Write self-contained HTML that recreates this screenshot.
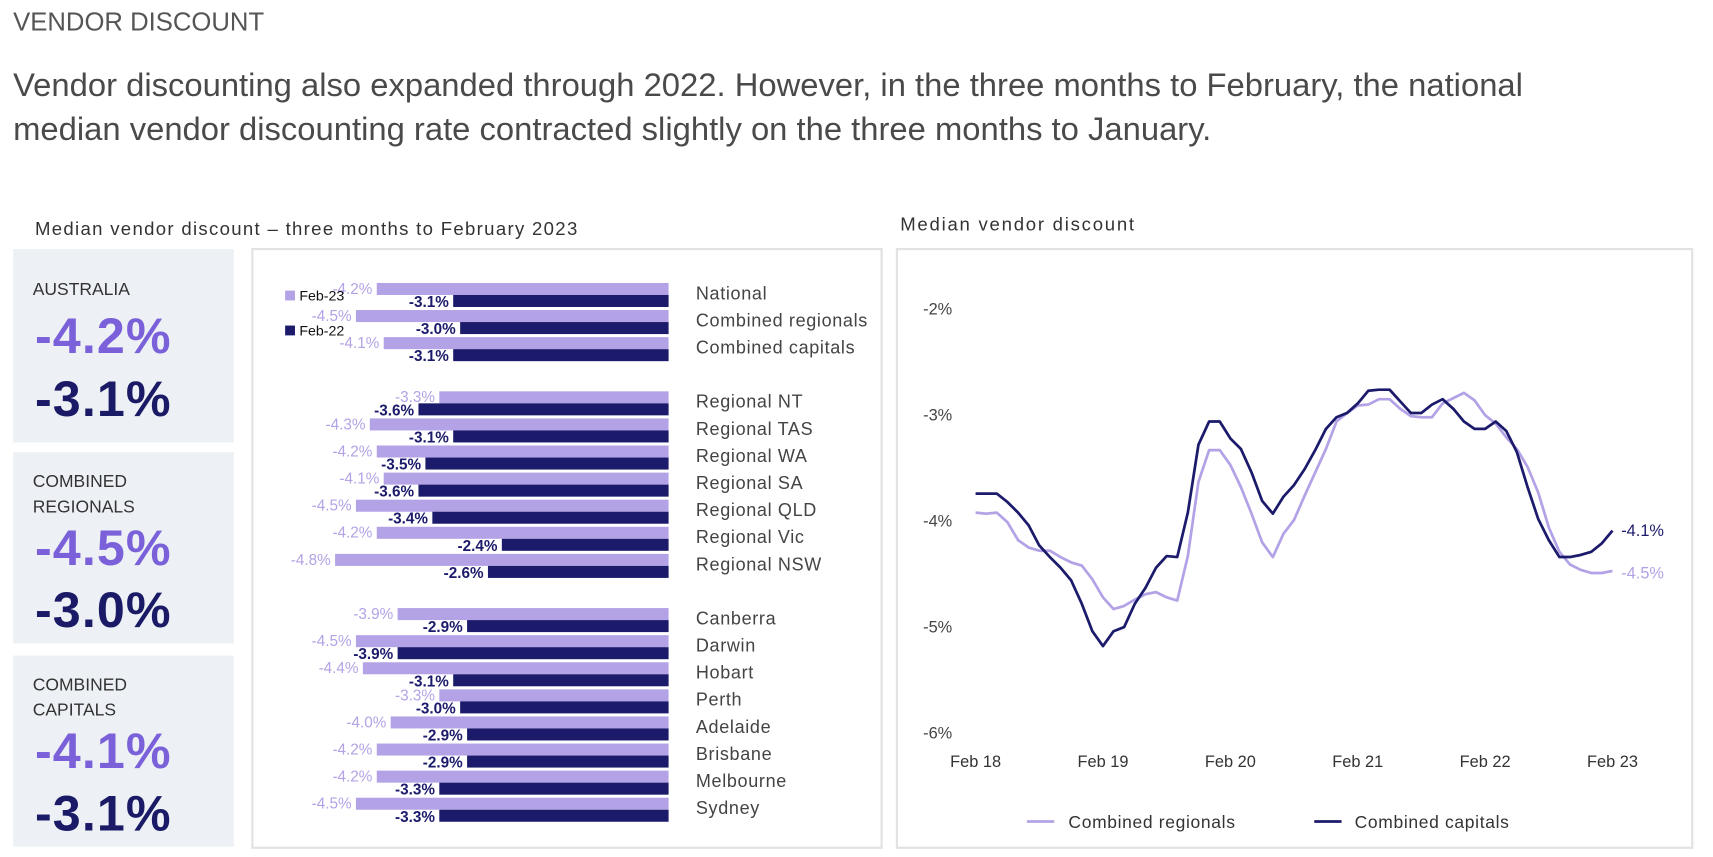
<!DOCTYPE html>
<html><head><meta charset="utf-8"><style>
html,body{margin:0;padding:0;background:#fff;overflow:hidden;width:1713px;height:857px}
#root{position:absolute;left:0;top:0;width:1568px;height:784px;transform:scale(1.09247);transform-origin:0 0;font-family:"Liberation Sans",sans-serif}
.abs{position:absolute;white-space:nowrap}
.panel{position:absolute;left:12px;width:202px;background:#edf1f5}
.plabel{position:absolute;left:18px;font-size:16px;color:#333;line-height:23px}
.big{position:absolute;left:20px;font-size:46px;font-weight:bold;letter-spacing:1px}
.box{position:absolute;border:2px solid #e2e2e2;background:#fff}
</style></head><body>
<div id="root">
<div class="abs" style="left:12px;top:7px;font-size:23.5px;color:#555">VENDOR DISCOUNT</div>
<div class="abs" style="left:12px;top:59px;font-size:30px;color:#4a4a4a;line-height:40px;white-space:normal;width:1460px">Vendor discounting also expanded through 2022. However, in the three months to February, the national median vendor discounting rate contracted slightly on the three months to January.</div>
<div class="abs" style="left:32px;top:200px;font-size:17px;letter-spacing:1.2px;color:#333">Median vendor discount – three months to February 2023</div>
<div class="abs" style="left:824px;top:196px;font-size:17px;letter-spacing:1.6px;color:#333">Median vendor discount</div>

<div class="panel" style="top:228px;height:177px">
 <div class="plabel" style="top:26px">AUSTRALIA</div>
 <div class="big" style="top:52px;color:#7b61d9">-4.2%</div>
 <div class="big" style="top:110px;color:#1b1a66">-3.1%</div>
</div>
<div class="panel" style="top:414px;height:175px">
 <div class="plabel" style="top:16px">COMBINED<br>REGIONALS</div>
 <div class="big" style="top:60px;color:#7b61d9">-4.5%</div>
 <div class="big" style="top:117px;color:#1b1a66">-3.0%</div>
</div>
<div class="panel" style="top:600px;height:175px">
 <div class="plabel" style="top:16px">COMBINED<br>CAPITALS</div>
 <div class="big" style="top:60px;color:#7b61d9">-4.1%</div>
 <div class="big" style="top:117px;color:#1b1a66">-3.1%</div>
</div>

<div class="box" style="left:230px;top:227px;width:574px;height:546px"></div>
<svg id="bars" class="abs" style="left:0;top:0" width="1568" height="784"></svg>
<div class="box" style="left:820px;top:227px;width:726px;height:546px"></div>
<svg id="lines" class="abs" style="left:0;top:0" width="1568" height="784"></svg>
</div>
<script>
const barCategories=["National","Combined regionals","Combined capitals","Regional NT","Regional TAS","Regional WA","Regional SA","Regional QLD","Regional Vic","Regional NSW","Canberra","Darwin","Hobart","Perth","Adelaide","Brisbane","Melbourne","Sydney"];
const barFeb23=[-4.2,-4.5,-4.1,-3.3,-4.3,-4.2,-4.1,-4.5,-4.2,-4.8,-3.9,-4.5,-4.4,-3.3,-4.0,-4.2,-4.2,-4.5];
const barFeb22=[-3.1,-3.0,-3.1,-3.6,-3.1,-3.5,-3.6,-3.4,-2.4,-2.6,-2.9,-3.9,-3.1,-3.0,-2.9,-2.9,-3.3,-3.3];
const barGroups=[0,0,0,1,1,1,1,1,1,1,2,2,2,2,2,2,2,2];

const lineXTicks=["Feb 18","Feb 19","Feb 20","Feb 21","Feb 22","Feb 23"];
const lineYTicks=[-2,-3,-4,-5,-6];
const regionals=[-3.93,-3.94,-3.93,-4.02,-4.19,-4.26,-4.29,-4.29,-4.35,-4.40,-4.43,-4.56,-4.73,-4.84,-4.81,-4.75,-4.70,-4.68,-4.73,-4.76,-4.34,-3.64,-3.34,-3.34,-3.48,-3.69,-3.94,-4.21,-4.35,-4.13,-4.00,-3.77,-3.55,-3.33,-3.07,-2.99,-2.92,-2.91,-2.86,-2.86,-2.95,-3.02,-3.03,-3.03,-2.90,-2.85,-2.80,-2.87,-3.01,-3.09,-3.22,-3.33,-3.50,-3.74,-4.07,-4.30,-4.42,-4.47,-4.50,-4.50,-4.48];
const capitals=[-3.75,-3.75,-3.75,-3.83,-3.93,-4.05,-4.24,-4.35,-4.45,-4.57,-4.79,-5.05,-5.19,-5.05,-5.01,-4.79,-4.64,-4.45,-4.34,-4.35,-3.93,-3.29,-3.07,-3.07,-3.23,-3.33,-3.55,-3.82,-3.94,-3.78,-3.67,-3.52,-3.34,-3.14,-3.03,-2.99,-2.90,-2.78,-2.77,-2.77,-2.88,-2.99,-2.99,-2.91,-2.86,-2.95,-3.07,-3.14,-3.14,-3.07,-3.16,-3.36,-3.69,-3.99,-4.19,-4.35,-4.35,-4.33,-4.30,-4.22,-4.10];

const NS="http://www.w3.org/2000/svg";
function mk(parent,tag,attrs,text){const e=document.createElementNS(NS,tag);for(const k in attrs)e.setAttribute(k,attrs[k]);if(text!==undefined)e.textContent=text;parent.appendChild(e);return e;}
const LIGHT="#b3a2e6",DARK="#1b1a6b";

// bar chart
const bs=document.getElementById('bars');
const bx=v=>612+v*63.6;
const rowY=i=>268+i*24.8+barGroups[i]*24.8;
barCategories.forEach((c,i)=>{
  const cy=rowY(i);
  const l=mk(bs,'rect',{x:bx(barFeb23[i]),y:cy-9,width:612-bx(barFeb23[i]),height:11,fill:LIGHT});
  
  
  const d=mk(bs,'rect',{x:bx(barFeb22[i]),y:cy+2,width:612-bx(barFeb22[i]),height:11,fill:DARK});
  
  
  const lt=mk(bs,'text',{x:bx(barFeb23[i])-4,y:cy+1,'text-anchor':'end','font-size':14,fill:LIGHT},barFeb23[i].toFixed(1)+'%');
  
  
  const dt=mk(bs,'text',{x:bx(barFeb22[i])-4,y:cy+13,'text-anchor':'end','font-size':14,fill:DARK,'font-weight':'bold'},barFeb22[i].toFixed(1)+'%');
  
  
  const ct=mk(bs,'text',{x:637,y:cy+6,'font-size':16.5,fill:'#444','letter-spacing':0.6},c);
  
  
});
const lg1=mk(bs,'rect',{x:261,y:266,width:9,height:9,fill:LIGHT});


const lg1t=mk(bs,'text',{x:274,y:275,'font-size':13,fill:'#111'},'Feb-23');


const lg2=mk(bs,'rect',{x:261,y:298,width:9,height:9,fill:DARK});


const lg2t=mk(bs,'text',{x:274,y:307,'font-size':13,fill:'#111'},'Feb-22');



// line chart
const ls=document.getElementById('lines');
const ly=v=>282+(-2-v)*97;
const lx=i=>893+i*(583/60);
lineYTicks.forEach(t=>{
  const e=mk(ls,'text',{x:845,y:ly(t)+6,'font-size':15,fill:'#444'},t+'%');
  
  
});
lineXTicks.forEach((t,k)=>{
  const e=mk(ls,'text',{x:lx(k*12),y:702,'font-size':15,fill:'#333','text-anchor':'middle'},t);
  
  
});
function path(arr){return arr.map((v,i)=>(i?'L':'M')+lx(i).toFixed(1)+','+ly(v).toFixed(1)).join('');}
const pr=mk(ls,'path',{d:path(regionals),fill:'none',stroke:LIGHT,'stroke-width':2.5,'stroke-linejoin':'round'});


const pc=mk(ls,'path',{d:path(capitals),fill:'none',stroke:DARK,'stroke-width':2.5,'stroke-linejoin':'round'});


const n=capitals.length-1;
const ec=mk(ls,'text',{x:lx(n)+8,y:ly(capitals[n])+5,'font-size':15,fill:DARK},capitals[n].toFixed(1)+'%');


const er=mk(ls,'text',{x:lx(n)+8,y:ly(regionals[n])+7,'font-size':15,fill:LIGHT},regionals[n].toFixed(1)+'%');


const l1=mk(ls,'line',{x1:940,x2:965,y1:752,y2:752,stroke:LIGHT,'stroke-width':2.5});


const l1t=mk(ls,'text',{x:978,y:758,'font-size':16,fill:'#333','letter-spacing':0.6},'Combined regionals');


const l2=mk(ls,'line',{x1:1203,x2:1228,y1:752,y2:752,stroke:DARK,'stroke-width':2.5});


const l2t=mk(ls,'text',{x:1240,y:758,'font-size':16,fill:'#333','letter-spacing':0.6},'Combined capitals');


</script>
</body></html>
